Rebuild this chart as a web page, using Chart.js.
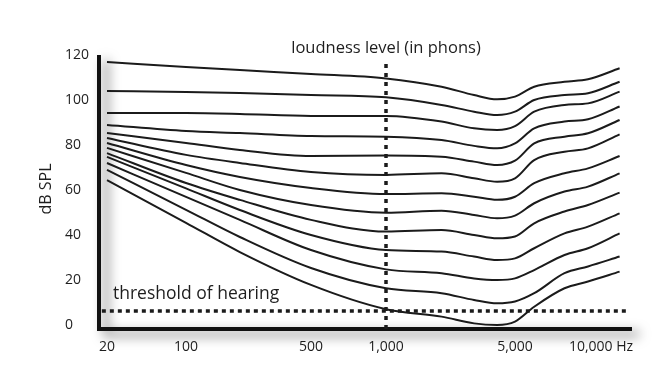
<!DOCTYPE html>
<html>
<head>
<meta charset="utf-8">
<script src="https://cdn.jsdelivr.net/npm/chart.js@4/dist/chart.umd.min.js"></script>
<style>
  html, body { margin: 0; padding: 0; background: #fff; }
  canvas { display: block; }
</style>
</head>
<body>
<canvas id="courbes" width="667" height="368"></canvas>
<script>
// ---- equal-loudness contours (schematic) ----

// x axis: the figure's frequency axis is not a true log scale, so ticks are pinned to axis stops
const tickHz = [20, 100, 500, 1000, 5000, 10000];
const tickText = ["20", "100", "500", "1,000", "5,000", "10,000 Hz"];
const axisStops = [0, 79, 204, 279, 408, 481];

const yTicks = [0, 20, 40, 60, 80, 100, 120];

const freqs = [20, 100, 200, 500, 1000, 2000, 3000, 4000, 5000, 6000, 8000, 10000, 13500];

// dB SPL per contour, top to bottom (last one = threshold of hearing)
const contour1 = [116.9, 114.7, 113.3, 111.6, 109.6, 105.9, 102.2, 100.3, 101.5, 105.9, 108.1, 109.2, 114.1];
const contour2 = [104.0, 103.6, 103.1, 102.2, 101.2, 97.8, 94.8, 93.3, 94.8, 100.0, 102.2, 103.0, 108.1];
const contour3 = [94.2, 94.2, 93.8, 92.9, 92.9, 90.4, 87.4, 86.7, 88.4, 94.8, 97.8, 98.5, 103.7];
const contour4 = [88.9, 86.2, 85.3, 84.0, 83.7, 82.2, 79.6, 78.5, 80.7, 87.4, 90.4, 91.4, 97.1];
const contour5 = [85.3, 80.9, 77.8, 75.1, 75.3, 74.8, 72.6, 71.1, 73.0, 80.7, 83.7, 85.2, 91.1];
const contour6 = [83.1, 75.6, 72.0, 68.0, 66.7, 67.4, 65.2, 63.7, 65.2, 73.3, 77.0, 78.5, 84.7];
const contour7 = [80.9, 71.1, 65.8, 60.9, 58.2, 58.5, 57.0, 55.6, 57.0, 63.0, 67.4, 69.6, 75.1];
const contour8 = [78.7, 67.6, 60.0, 53.3, 49.9, 50.8, 48.9, 47.4, 48.6, 54.1, 59.3, 61.5, 67.4];
const contour9 = [76.4, 63.1, 55.6, 46.7, 41.5, 42.2, 40.0, 38.5, 39.3, 45.2, 50.4, 53.3, 58.8];
const contour10 = [74.7, 60.7, 51.1, 40.0, 33.3, 32.6, 30.4, 28.9, 29.6, 34.1, 40.7, 43.7, 49.6];
const contour11 = [72.0, 56.9, 46.7, 33.3, 24.7, 23.0, 20.7, 20.0, 20.7, 24.4, 31.1, 34.1, 40.7];
const contour12 = [68.9, 51.2, 39.1, 25.3, 16.3, 14.1, 11.1, 9.6, 10.4, 14.1, 23.0, 26.0, 30.4];
const contour13 = [64.4, 45.4, 32.4, 17.8, 7.0, 3.7, 0.7, 0.0, 1.5, 8.1, 16.3, 19.3, 23.7];

const contours = [contour1, contour2, contour3, contour4, contour5, contour6, contour7,
  contour8, contour9, contour10, contour11, contour12, contour13];

// dotted guides
const phonLineHz = 1000;
const phonLineDb = [-1.8, 116.9];
const thresholdDb = 6.2;
const thresholdSpanHz = [18, 14600];

// position of a frequency along the (warped) x axis
function hzToAxis(hz) {
  const lg = Math.log10(hz);
  const L = tickHz.map(Math.log10);
  let i = 0;
  while (i < L.length - 2 && lg > L[i + 1]) i++;
  const t = (lg - L[i]) / (L[i + 1] - L[i]);
  return axisStops[i] + t * (axisStops[i + 1] - axisStops[i]);
}

const police = '"Open Sans", "DejaVu Sans", sans-serif';
const noir = "#1b1b1b";

const datasets = contours.map(c => ({
  data: c.map((db, i) => ({ x: hzToAxis(freqs[i]), y: db })),
  borderColor: noir,
  borderWidth: 2,
  pointRadius: 0,
  fill: false,
  cubicInterpolationMode: "monotone"
}));

datasets.push({
  data: phonLineDb.map(db => ({ x: hzToAxis(phonLineHz), y: db })),
  borderColor: noir,
  borderWidth: 3.5,
  borderDash: [4, 5],
  pointRadius: 0
});
datasets.push({
  data: thresholdSpanHz.map(hz => ({ x: hzToAxis(hz), y: thresholdDb })),
  borderColor: noir,
  borderWidth: 3.5,
  borderDash: [4, 4],
  pointRadius: 0
});

// axes with drop shadow + the free texts
const decor = {
  id: "decor",
  beforeDatasetsDraw(chart) {
    const { ctx, chartArea: a } = chart;
    ctx.save();
    ctx.shadowColor = "rgba(0,0,0,0.6)";
    ctx.shadowBlur = 12;
    ctx.shadowOffsetX = 7;
    ctx.shadowOffsetY = 5;
    ctx.strokeStyle = "#111";
    ctx.lineWidth = 4;
    ctx.lineCap = "butt";
    ctx.beginPath();
    ctx.moveTo(a.left - 1, a.top);
    ctx.lineTo(a.left - 1, a.bottom);
    ctx.lineTo(a.right, a.bottom);
    ctx.stroke();
    ctx.restore();
  },
  afterDraw(chart) {
    const { ctx, chartArea: a, scales: { x, y } } = chart;
    ctx.save();
    ctx.fillStyle = "#1e1e1e";
    ctx.textBaseline = "alphabetic";

    ctx.font = "16.5px " + police;
    ctx.textAlign = "center";
    ctx.fillText("loudness level (in phons)", x.getPixelForValue(hzToAxis(phonLineHz)), a.top - 2);

    ctx.font = "17.5px " + police;
    ctx.textAlign = "left";
    ctx.fillText("threshold of hearing", x.getPixelForValue(hzToAxis(20)) + 6, y.getPixelForValue(thresholdDb) - 12);

    ctx.font = "16px " + police;
    ctx.textAlign = "center";
    ctx.textBaseline = "middle";
    ctx.translate(46, (a.top + a.bottom) / 2 - 3);
    ctx.rotate(-Math.PI / 2);
    ctx.fillText("dB SPL", 0, 0);
    ctx.restore();
  }
};

new Chart(document.getElementById("courbes"), {
  type: "line",
  data: { datasets },
  plugins: [decor],
  options: {
    responsive: false,
    animation: false,
    devicePixelRatio: 1,
    layout: { padding: { left: 65, top: 55, right: 35, bottom: 0 } },
    plugins: { legend: { display: false }, tooltip: { enabled: false } },
    scales: {
      x: {
        type: "linear",
        min: -7,
        max: 525,
        // last label carries the unit, so it sits a bit right of its stop (" Hz" hangs past it)
        afterBuildTicks: s => {
          s.ticks = axisStops.map((v, i) => ({ value: i === axisStops.length - 1 ? v + 13 : v }));
        },
        afterFit: s => { s.height = 39; },
        grid: { display: false, drawTicks: false },
        border: { display: false },
        ticks: {
          padding: 10,
          maxRotation: 0,
          autoSkip: false,
          color: "#1e1e1e",
          font: { family: police, size: 14 },
          callback: (v, i) => tickText[i]
        }
      },
      y: {
        type: "linear",
        min: -1.8,
        max: 120,
        afterBuildTicks: s => { s.ticks = yTicks.map(v => ({ value: v })); },
        afterFit: s => { s.width = 35; },
        grid: { display: false, drawTicks: false },
        border: { display: false },
        ticks: {
          crossAlign: "far",
          color: "#1e1e1e",
          font: { family: police, size: 14 }
        }
      }
    }
  }
});
</script>
</body>
</html>
